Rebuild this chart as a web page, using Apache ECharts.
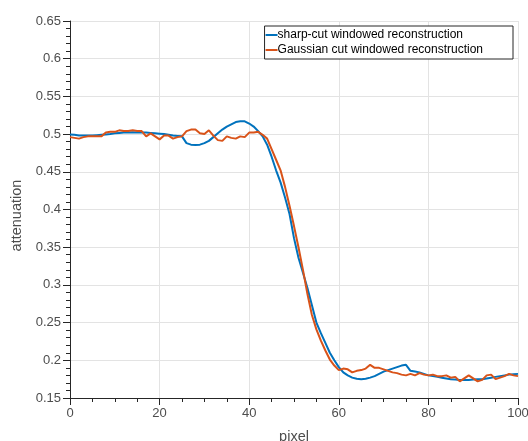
<!DOCTYPE html>
<html>
<head>
<meta charset="utf-8">
<script src="https://cdn.jsdelivr.net/npm/echarts@6/dist/echarts.min.js"></script>
<style>html,body{margin:0;padding:0;background:#fff;overflow:hidden}#c{width:528px;height:441px;position:absolute;left:0;top:0}</style>
</head>
<body>
<div id="c"></div>
<script>
const pixels = Array.from({length: 101}, (_, i) => i);
const sharpCut = [
0.4995,0.499,0.498,0.498,0.498,0.498,0.4985,0.499,0.4995,0.500,
0.501,0.5015,0.502,0.502,0.5025,0.502,0.502,0.502,0.5015,0.501,
0.5005,0.500,0.499,0.498,0.4975,0.497,0.488,0.486,0.4855,0.486,
0.488,0.491,0.496,0.501,0.506,0.510,0.513,0.516,0.517,0.517,
0.514,0.510,0.504,0.497,0.486,0.470,0.452,0.436,0.416,0.394,
0.362,0.336,0.316,0.296,0.273,0.250,0.236,0.223,0.210,0.200,
0.191,0.184,0.180,0.177,0.1755,0.175,0.1755,0.177,0.179,0.182,
0.185,0.187,0.189,0.191,0.193,0.194,0.186,0.185,0.184,0.182,
0.180,0.179,0.178,0.177,0.176,0.175,0.1745,0.174,0.174,0.174,
0.1745,0.175,0.175,0.176,0.177,0.178,0.179,0.180,0.181,0.1815,
0.182];
const gaussCut = [
0.496,0.495,0.494,0.496,0.497,0.497,0.497,0.497,0.502,0.503,
0.503,0.505,0.504,0.504,0.505,0.504,0.504,0.497,0.501,0.497,
0.493,0.498,0.498,0.494,0.496,0.497,0.504,0.506,0.506,0.501,
0.500,0.505,0.498,0.492,0.491,0.497,0.495,0.494,0.497,0.496,
0.502,0.502,0.503,0.499,0.494,0.480,0.466,0.452,0.430,0.405,
0.378,0.350,0.320,0.288,0.260,0.241,0.226,0.213,0.201,0.193,
0.187,0.189,0.188,0.184,0.186,0.187,0.189,0.194,0.190,0.190,
0.188,0.186,0.184,0.183,0.181,0.180,0.182,0.180,0.183,0.181,
0.180,0.181,0.179,0.179,0.180,0.177,0.178,0.172,0.176,0.180,
0.176,0.172,0.174,0.180,0.181,0.175,0.177,0.179,0.182,0.180,
0.179];
const seriesNames = ['sharp-cut windowed reconstruction', 'Gaussian cut windowed reconstruction'];

const chart = echarts.init(document.getElementById('c'), null, {renderer: 'canvas', width: 528, height: 441});
const axisColor = '#262626';
const labelColor = '#4d4d4d';
const font = 'Liberation Sans, Arial, sans-serif';
chart.setOption({
  animation: false,
  backgroundColor: '#fff',
  grid: {left: 70, right: 10, top: 21, bottom: 43, containLabel: false, outerBoundsMode: 'none'},
  legend: {
    orient: 'vertical',
    right: 15, top: 26,
    backgroundColor: '#fff',
    borderColor: axisColor,
    borderWidth: 1,
    borderRadius: 0,
    padding: [3, 30, 3, 1],
    itemGap: 3,
    itemWidth: 12,
    itemHeight: 2,
    icon: 'rect',
    textStyle: {fontFamily: font, fontSize: 12, color: '#000', padding: [0, 0, 0, -5]},
    data: seriesNames
  },
  xAxis: {
    type: 'value', min: 0, max: 100, interval: 20,
    name: 'pixel', nameLocation: 'middle', nameGap: 31,
    nameTextStyle: {fontFamily: font, fontSize: 14.5, color: labelColor},
    axisLine: {show: true, onZero: false, lineStyle: {color: axisColor, width: 1}},
    axisTick: {show: true, inside: false, length: 7, lineStyle: {color: axisColor}},
    minorTick: {show: true, splitNumber: 4, length: 4, lineStyle: {color: axisColor}},
    axisLabel: {fontFamily: font, fontSize: 13, color: labelColor, margin: 9},
    splitLine: {show: true, lineStyle: {color: '#e3e3e3', width: 1}}
  },
  yAxis: {
    type: 'value', min: 0.15, max: 0.65, interval: 0.05,
    name: 'attenuation', nameLocation: 'middle', nameGap: 42,
    nameTextStyle: {fontFamily: font, fontSize: 14.5, color: labelColor, padding: [0, 12, 0, 0]},
    axisLine: {show: true, onZero: false, lineStyle: {color: axisColor, width: 1}},
    axisTick: {show: true, inside: false, length: 7, lineStyle: {color: axisColor}},
    minorTick: {show: true, splitNumber: 5, length: 4, lineStyle: {color: axisColor}},
    axisLabel: {fontFamily: font, fontSize: 13, color: labelColor, margin: 9,
      formatter: v => String(Math.round(v * 100) / 100)},
    splitLine: {show: true, lineStyle: {color: '#e3e3e3', width: 1}}
  },
  series: [
    {name: seriesNames[0], type: 'line', showSymbol: false, data: pixels.map((p, i) => [p, sharpCut[i]]),
     lineStyle: {color: '#0072BD', width: 2}, itemStyle: {color: '#0072BD'}},
    {name: seriesNames[1], type: 'line', showSymbol: false, data: pixels.map((p, i) => [p, gaussCut[i]]),
     lineStyle: {color: '#D95319', width: 2}, itemStyle: {color: '#D95319'}}
  ]
});
</script>
</body>
</html>
